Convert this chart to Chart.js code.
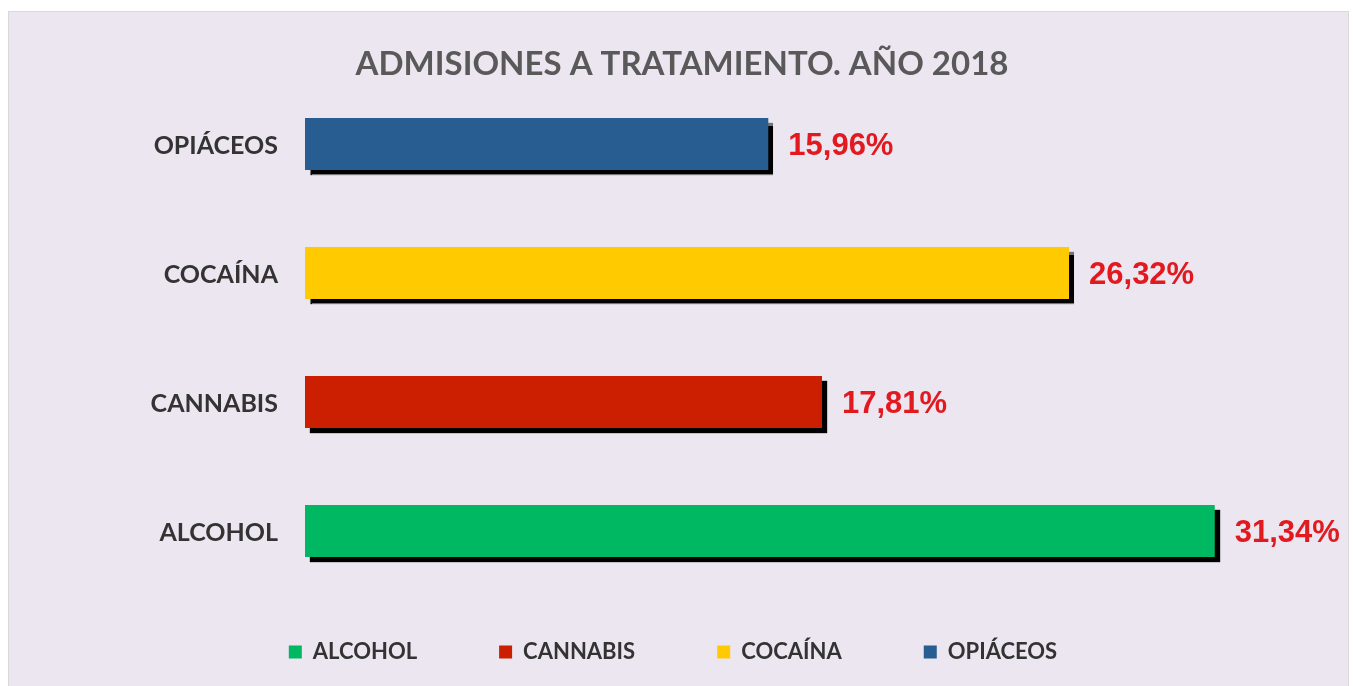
<!DOCTYPE html>
<html>
<head>
<meta charset="utf-8">
<script src="https://cdn.jsdelivr.net/npm/chart.js@4.4.0/dist/chart.umd.min.js"></script>
<style>
  html, body { margin: 0; padding: 0; background: #fff; overflow: hidden; }
  #wrap {
    position: absolute; left: 8px; top: 11px;
    width: 1339px; height: 690px;
    background: #ebe6f0; border: 1px solid #d9d9d9;
  }
</style>
</head>
<body>
<div id="wrap"><canvas id="chart"></canvas></div>
<script>
const categories = ['ALCOHOL', 'CANNABIS', 'COCAÍNA', 'OPIÁCEOS'];
const percentages = [31.34, 17.81, 26.32, 15.96];
const barColors = ['#00b862', '#cc1e00', '#ffcb00', '#275d90'];
const chartTitle = 'ADMISIONES A TRATAMIENTO. AÑO 2018';

const formatPct = v => v.toFixed(2).replace('.', ',') + '%';

// black drop shadow under the bars
const barShadow = {
    id: 'barShadow',
    beforeDatasetsDraw(chart) {
        const ctx = chart.ctx;
        ctx.save();
        ctx.shadowColor = 'rgba(0,0,0,1)';
        ctx.shadowOffsetX = 5;
        ctx.shadowOffsetY = 5;
        ctx.shadowBlur = 1;
    },
    afterDatasetsDraw(chart) {
        chart.ctx.restore();
    }
};

// red value labels to the right of each bar
const valueLabels = {
    id: 'valueLabels',
    afterDatasetsDraw(chart) {
        const ctx = chart.ctx;
        const meta = chart.getDatasetMeta(0);
        ctx.save();
        ctx.font = 'bold 31px "Liberation Sans", Arial, sans-serif';
        ctx.fillStyle = '#e2191f';
        ctx.textAlign = 'left';
        ctx.textBaseline = 'middle';
        meta.data.forEach((bar, i) => {
            ctx.fillText(formatPct(percentages[i]), bar.x + 20, bar.y + 2.5);
        });
        ctx.restore();
    }
};

// legend needs wide horizontal gaps but sits closer to the plot;
// title sits a little right of the canvas centre
const layoutNudge = {
    id: 'layoutNudge',
    afterLayout(chart) {
        chart.legend.top -= 36.5;
        chart.legend.bottom -= 36.5;
        chart.titleBlock.left += 9;
        chart.titleBlock.right += 9;
    }
};

new Chart(document.getElementById('chart'), {
    type: 'bar',
    data: {
        labels: categories,
        datasets: [{
            data: percentages,
            backgroundColor: barColors,
            borderWidth: 0,
            categoryPercentage: 1,
            barPercentage: 0.403
        }]
    },
    options: {
        indexAxis: 'y',
        responsive: true,
        maintainAspectRatio: false,
        animation: false,
        layout: { padding: { left: 16, right: 27, top: 0, bottom: 0 } },
        plugins: {
            title: {
                display: true,
                text: chartTitle,
                color: '#595959',
                font: { family: 'Lato', size: 33, weight: 'bold', lineHeight: 0.9 },
                padding: { top: 37.6, bottom: 0.2 }
            },
            legend: {
                position: 'bottom',
                maxHeight: 106.5,
                labels: {
                    boxWidth: 13,
                    boxHeight: 13,
                    padding: 82,
                    color: '#333333',
                    font: { family: 'Lato', size: 22, weight: 'bold' },
                    generateLabels: () => categories.map((c, i) => ({
                        text: c,
                        fillStyle: barColors[i],
                        strokeStyle: barColors[i],
                        lineWidth: 0,
                        fontColor: '#333333',
                        hidden: false,
                        index: i
                    }))
                }
            },
            tooltip: { enabled: false }
        },
        scales: {
            x: { display: false, min: 0, max: 35 },
            y: {
                reverse: true,
                grid: { display: false },
                border: { display: false },
                afterFit: scale => { scale.width = 280; },
                ticks: {
                    color: '#333333',
                    padding: 19,
                    labelOffset: 2,
                    font: { family: 'Lato', size: 25, weight: 'bold' }
                }
            }
        }
    },
    plugins: [barShadow, valueLabels, layoutNudge]
});
</script>
</body>
</html>
